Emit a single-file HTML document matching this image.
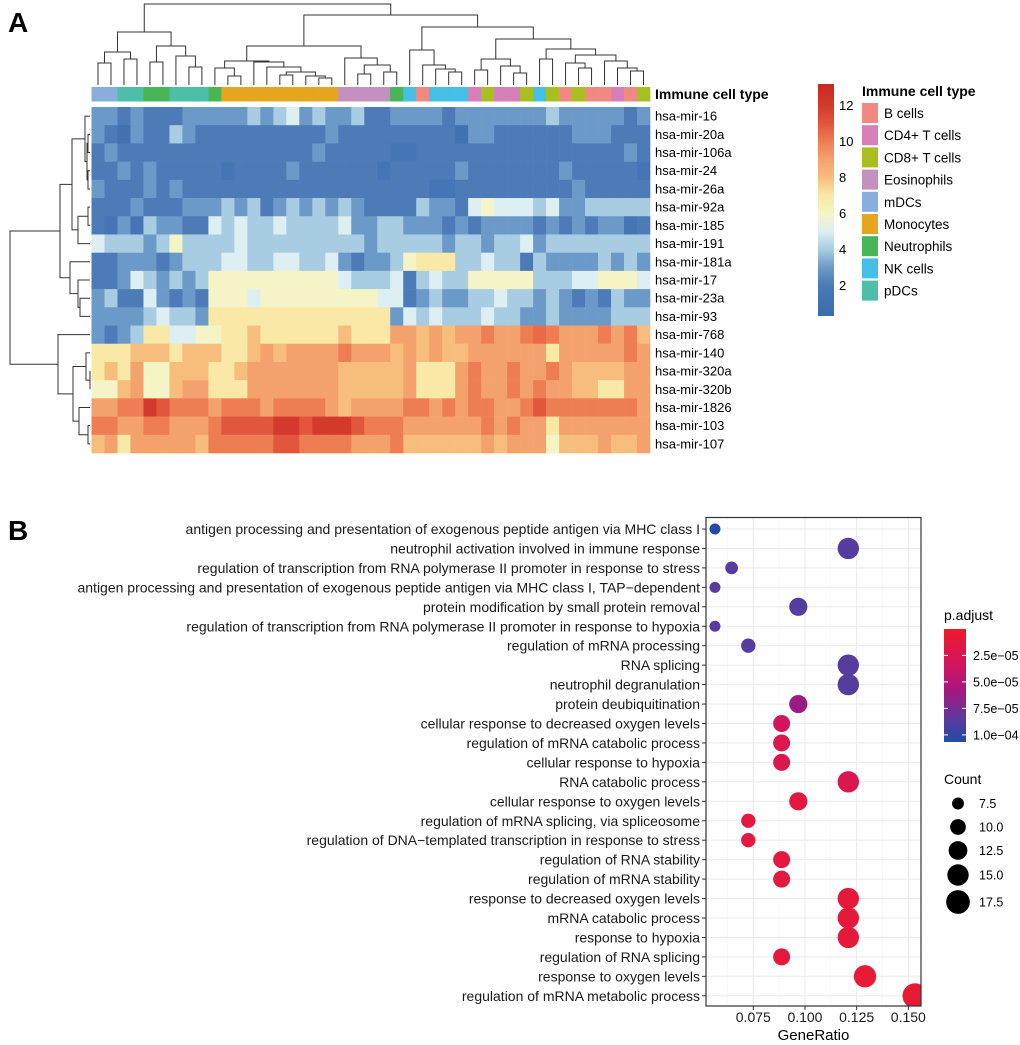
<!DOCTYPE html>
<html><head><meta charset="utf-8"><style>
html,body{margin:0;padding:0;background:#fff;}
svg{display:block;font-family:"Liberation Sans",Arial,sans-serif;}
</style></head><body>
<svg id="fig" width="1020" height="1045" viewBox="0 0 1020 1045" xmlns="http://www.w3.org/2000/svg">
<defs>
<clipPath id="pclip"><rect x="706" y="517.5" width="215" height="488.5"/></clipPath>
<linearGradient id="hmgrad" x1="0" y1="0" x2="0" y2="1"></linearGradient>
<linearGradient id="pgrad" x1="0" y1="0" x2="0" y2="1">
<stop offset="0" stop-color="#EE1B2A"/><stop offset="0.3" stop-color="#D4155E"/><stop offset="0.55" stop-color="#A3187F"/><stop offset="0.8" stop-color="#5A3A9E"/><stop offset="1" stop-color="#1E4FA3"/>
</linearGradient>
</defs>
<text x="8" y="32" font-size="28" font-weight="bold">A</text>
<text x="8" y="540" font-size="28" font-weight="bold">B</text>
<g id="heat"></g>
<g id="dot"></g>
</svg>
<script>
// ---------- Panel A data ----------
const mirnas = ["hsa-mir-16","hsa-mir-20a","hsa-mir-106a","hsa-mir-24","hsa-mir-26a","hsa-mir-92a","hsa-mir-185","hsa-mir-191","hsa-mir-181a","hsa-mir-17","hsa-mir-23a","hsa-mir-93","hsa-mir-768","hsa-mir-140","hsa-mir-320a","hsa-mir-320b","hsa-mir-1826","hsa-mir-103","hsa-mir-107"];
const cellTypes = ["B cells","CD4+ T cells","CD8+ T cells","Eosinophils","mDCs","Monocytes","Neutrophils","NK cells","pDCs"];
const cellColors = ["#F08A80","#D67FB8","#A8BF1F","#C490C0","#88AEDD","#E5A51E","#48B556","#45BFE5","#4DBFA9"];
const colType = [4,4,8,8,6,6,8,8,8,6, 5,5,5,5,5,5,5,5,5, 3,3,3,3, 6,7,0,7,7,7, 1,2,1,1,2,7,2,0,2,0,0,1,0,2];
const expr = [
[3,3,2,3,2,2,2,3,3,3, 3,3,4,3,4,5,3,4,3,3, 4,2,2,3,3,3,3,2,3,3, 3,3,3,3,3,4,3,3,3,3, 3,2,3],
[3,2,1,3,2,2,4,3,2,2, 2,2,2,2,2,2,2,2,3,2, 2,2,2,2,2,2,2,2,1,3, 3,2,2,2,2,2,2,3,3,3, 2,2,2],
[2,3,2,2,2,2,2,2,2,2, 2,2,2,2,2,2,2,3,2,2, 2,2,2,1.5,1.5,2,2,2,2,2, 2,2,2,2,2,2,2,2,2,2, 2,3,2],
[2,2,3,2,3,2,2,2,2,2, 1.5,2,2,2,2,3,2,2,2,2, 2,2,1.5,2,2,2,2,2,3,2, 2,2,2,2,2,2,3,2,2,2, 2,2,1.5],
[3,2,2,2,3,2,3,2,2,2, 2,2,2,2,2,2,2,2,2,2, 2,2,2,2,2,2,1.5,1.5,2,2, 2,2,2,2,2,2,2,3,2,2, 2,2,2],
[2,2,2,3,2,2,2,3,3,3, 4,3,4,2,3,4,3,4,3,4, 3,2,2,2,2,4,3,3,2,5, 6,5,5,5,4,5,3,3,4,4, 4,4,4],
[2,1.5,3,1.5,4,3,3,2,2,5, 4,5,4,4,5,4,4,4,4,5, 3,3,4,4,3,3,3,2,3,2, 3,3,3,3,2,3,2,3,2,3, 3,1.5,2],
[5,4,4,4,3,4,6,4,4,4, 4,5,4,4,4,4,4,4,4,4, 4,3,4,4,4,4,4,3,4,4, 3,4,4,5,3,4,4,4,4,4, 4,4,4],
[2,2,3,3,3,2,3,4,4,4, 5,5,4,4,5,5,4,4,5,3, 2,3,3,4,6,7,7,7,4,4, 5,4,4,2,4,3,3,3,3,4, 3,4,3],
[2,2,3,5,4,3,4,3,4,6, 6,6,6,6,6,6,6,6,6,5, 4,4,4,5,2,4,5,4,4,6, 6,6,6,6,4,4,4,5,5,6, 6,6,5],
[3,4,2,2,5,3,2,3,2,6, 6,6,5,6,6,6,6,6,6,6, 6,6,5,5,2,3,4,3,3,4, 4,5,4,4,3,4,3,2,3,2, 4,3,3],
[3,3,3,3,4,5,4,4,3,7, 7,7,7,7,7,7,7,7,7,7, 7,7,7,3,5,4,5,4,4,4, 5,4,4,3,3,4,3,3,3,3, 4,4,4],
[3,2,3,4,7,7,5,5,6,6, 7,7,8,7,7,7,7,7,7,8, 7,7,7,9,9,8,9,8,9,9, 10,9,9,10,10.5,10,9,9,9,10, 9,10,8],
[7,7,7,8,8,8,7,8,8,8, 7,7,8,9,8,9,9,9,9,10, 9,9,9,8,9,8,9,8,8,9, 9,9,9,9,9,7,9,9,9,9, 9,10,9],
[7,8,7,9,6,6,8,8,8,7, 7,8,9,9,9,9,9,9,9,8, 8,8,8,8,9,7,7,7,9,10, 9,9,10,9,9,10,9,8,8,8, 8,9,9],
[6,6,8,9,6,6,8,9,9,7, 7,7,9,9,9,9,9,9,9,8, 8,8,8,8,9,7,7,7,9,10, 9,9,10,9,10,9,9,8,8,7, 7,9,9],
[9,9,10,10,12,11,10,10,10,9, 10,10,10,9,10,10,10,10,9,8, 9,9,9,9,10,10,9,10,9,10, 10,9,9,10,11,10,10,10,10,10, 10,10,9],
[10,10,9,9,10,10,9,9,9,10, 11,11,11,11,12,12,11,12,12,12, 11,10,10,10,9,9,9,9,9,9, 10,9,10,9,9,7,9,9,9,9, 9,9,9],
[8,9,7,9,9,9,9,9,8,10, 10,10,10,10,11,11,10,10,10,10, 9,9,9,10,8,8,8,8,8,8, 9,8,9,9,9,6,8,8,8,9, 8,8,9]
];
const scaleTicks = [2,4,6,8,10,12];
const colTree = [4,
  [32,[52,[63,0,1],[59,2,3]],[46,[62,4,5],[56,6,[67,7,8]]]],
  [15,
    [46,[61,[68,9,[76,10,11]],[62,12,[67,13,[72,[75,14,15],[76,16,[78,17,18]]]]]],[58,19,[65,[74,20,21],[72,22,23]]]],
    [27,[50,24,[65,25,[69,26,[72,27,28]]]],
        [39,[59,[70,29,30],[66,31,[73,32,33]]],[49,[59,34,35],[55,[63,36,[68,37,38]],[61,39,[68,40,[71,41,42]]]]]]]
  ]];
const rowTree = [10,
  [60,[72,[85,0,[87,[88,1,2],[88,3,4]]],[78,[88,5,6],7]],[70,8,[78,9,[80,10,11]]]],
  [58,12,[73,[86,13,[90,14,15]],[79,16,[88,17,18]]]]];

// ---------- Panel B data ----------
const terms = ["antigen processing and presentation of exogenous peptide antigen via MHC class I","neutrophil activation involved in immune response","regulation of transcription from RNA polymerase II promoter in response to stress","antigen processing and presentation of exogenous peptide antigen via MHC class I, TAP\u2212dependent","protein modification by small protein removal","regulation of transcription from RNA polymerase II promoter in response to hypoxia","regulation of mRNA processing","RNA splicing","neutrophil degranulation","protein deubiquitination","cellular response to decreased oxygen levels","regulation of mRNA catabolic process","cellular response to hypoxia","RNA catabolic process","cellular response to oxygen levels","regulation of mRNA splicing, via spliceosome","regulation of DNA\u2212templated transcription in response to stress","regulation of RNA stability","regulation of mRNA stability","response to decreased oxygen levels","mRNA catabolic process","response to hypoxia","regulation of RNA splicing","response to oxygen levels","regulation of mRNA metabolic process"];
const counts = [7,15,8,7,12,7,9,15,15,12,11,11,11,15,12,9,9,11,11,15,15,15,11,16,19];
const totalGenes = 124;
const padj = [1.06e-4,8.8e-5,8.6e-5,8.6e-5,8.8e-5,8.6e-5,8.6e-5,8.7e-5,8.8e-5,6.2e-5,3.2e-5,2.2e-5,2.2e-5,2.3e-5,1.4e-5,1.3e-5,1.3e-5,1.3e-5,1.3e-5,1.1e-5,1.1e-5,1.1e-5,1.1e-5,7e-6,6e-6];
const xTicks = [0.075,0.100,0.125,0.150];
const pTicks = [2.5e-5,5.0e-5,7.5e-5,1.0e-4];
const pTickLabels = ["2.5e\u221205","5.0e\u221205","7.5e\u221205","1.0e\u221204"];
const sizeTicks = [7.5,10.0,12.5,15.0,17.5];

const NS = "http://www.w3.org/2000/svg";
function mk(tag, attrs, parent){ const e=document.createElementNS(NS,tag); for(const k in attrs) e.setAttribute(k,attrs[k]); parent.appendChild(e); return e; }
function hex(c){return [parseInt(c.slice(1,3),16),parseInt(c.slice(3,5),16),parseInt(c.slice(5,7),16)];}
function interp(stops, t){ if(t<=stops[0][0]) return stops[0][1]; for(let i=0;i<stops.length-1;i++){ const [a,ca]=stops[i],[b,cb]=stops[i+1]; if(t<=b){ const f=(t-a)/(b-a); const x=hex(ca),y=hex(cb); return "rgb("+x.map((v,k)=>Math.round(v+(y[k]-v)*f)).join(",")+")"; } } return stops[stops.length-1][1]; }

// ---------- Heatmap ----------
const H = document.getElementById("heat");
const hmX0=91.5, hmX1=650, hmY0=107, hmY1=453;
const nC = colType.length, nR = mirnas.length;
const cw=(hmX1-hmX0)/nC, rh=(hmY1-hmY0)/nR;
const vMin=0.3, vMax=13.2;
// colour stops in value units
const hmStops=[[0.3,"#3D6CAD"],[1.5,"#4575B4"],[2,"#4C7BB7"],[3,"#6C9AC8"],[4,"#A8CCE2"],[5,"#DEEFF3"],[6,"#F4F4C6"],[7,"#F9E8A6"],[8,"#F7BD7D"],[9,"#F4A26B"],[10,"#EE7E52"],[11,"#E2563D"],[12,"#D43A2B"],[13.2,"#C82A22"]];
const hmColor = v => interp(hmStops, v);
const hg = document.getElementById("hmgrad");
hmStops.forEach(s=>{ mk("stop",{offset:((vMax-s[0])/(vMax-vMin)).toFixed(4),"stop-color":s[1]},hg); });
Array.from(hg.children).reverse().forEach(c=>hg.appendChild(c));
const colX = j => hmX0 + (j+0.5)*cw;
const rowY = i => hmY0 + (i+0.5)*rh;
for(let i=0;i<nR;i++){
  for(let j=0;j<nC;j++){
    const r = mk("rect",{x:hmX0+j*cw,y:hmY0+i*rh,width:cw+0.3,height:rh+0.3,fill:hmColor(expr[i][j])},H);
    
    
  }
  const t = mk("text",{x:655,y:rowY(i)+4.5,"font-size":13},H);
  t.textContent = mirnas[i];
  
  
}
for(let j=0;j<nC;j++){
  const r = mk("rect",{x:hmX0+j*cw,y:87,width:cw+0.3,height:14.5,fill:cellColors[colType[j]]},H);
  
  
}
const at = mk("text",{x:655,y:99,"font-size":14,"font-weight":"bold"},H);
at.textContent="Immune cell type";



const dg = mk("g",{stroke:"#333","stroke-width":1,fill:"none"},H);


function drawCol(n){
  if(typeof n==="number") return {x:colX(n),y:85};
  const a=drawCol(n[1]), b=drawCol(n[2]), h=n[0];
  mk("path",{d:`M${a.x},${a.y}V${h}H${b.x}V${b.y}`},dg);
  return {x:(a.x+b.x)/2,y:h};
}
function drawRow(n){
  if(typeof n==="number") return {x:90,y:rowY(n)};
  const a=drawRow(n[1]), b=drawRow(n[2]), h=n[0];
  mk("path",{d:`M${a.x},${a.y}H${h}V${b.y}H${b.x}`},dg);
  return {x:h,y:(a.y+b.y)/2};
}
drawCol(colTree); drawRow(rowTree);

const cbY0=84, cbY1=316;
const cb = mk("rect",{x:818,y:cbY0,width:16,height:cbY1-cbY0,fill:"url(#hmgrad)"},H);


scaleTicks.forEach(v=>{
  const y = cbY0 + (vMax-v)/(vMax-vMin)*(cbY1-cbY0);
  const t=mk("text",{x:839,y:y+4.5,"font-size":13},H);
  t.textContent=v;
  
  
});
const lt = mk("text",{x:862,y:96,"font-size":14,"font-weight":"bold"},H);
lt.textContent="Immune cell type";


cellTypes.forEach((c,k)=>{
  const y=103+k*22.2;
  const r=mk("rect",{x:862,y:y,width:16,height:20,fill:cellColors[k]},H);
  
  
  const t=mk("text",{x:884,y:y+15,"font-size":13.5},H);
  t.textContent=c;
  
  
});

// ---------- Dot plot ----------
const D = document.getElementById("dot");
const pX0=706, pX1=921, pY0=517.5, pY1=1006;
const xs = v => 753.3 + (v-0.075)*2067;
const yTop=529, yStep=19.45;
const ys = i => yTop + i*yStep;
const pMin=1e-7, pMax=1.067e-4;
const pStops=[[0,"#EE1B2A"],[0.3,"#D4155E"],[0.55,"#A3187F"],[0.8,"#5A3A9E"],[1,"#1E4FA3"]];
const pcol = p => interp(pStops,(p-pMin)/(pMax-pMin));
const rMin=5.5, rMax=12.5, cMin=7, cMax=19;
const rs = c => Math.sqrt(rMin*rMin + (c-cMin)/(cMax-cMin)*(rMax*rMax-rMin*rMin));
mk("rect",{x:pX0,y:pY0,width:pX1-pX0,height:pY1-pY0,fill:"#fff"},D);
const grid = mk("g",{},D);


for(let k=0;k<xTicks.length;k++){
  mk("line",{x1:xs(xTicks[k]),x2:xs(xTicks[k]),y1:pY0,y2:pY1,stroke:"#EBEBEB","stroke-width":1.1},grid);
}
for(let k=-1;k<xTicks.length;k++){
  const v = (k<0? xTicks[0]-0.0125 : xTicks[k]+0.0125);
  const x=xs(v); if(x>pX0 && x<pX1) mk("line",{x1:x,x2:x,y1:pY0,y2:pY1,stroke:"#F3F3F3","stroke-width":0.6},grid);
}
terms.forEach((t,i)=>{ mk("line",{x1:pX0,x2:pX1,y1:ys(i),y2:ys(i),stroke:"#EBEBEB","stroke-width":1.1},grid); });
const dots = mk("g",{"clip-path":"url(#pclip)"},D);
terms.forEach((t,i)=>{
  const c = mk("circle",{cx:xs(counts[i]/totalGenes),cy:ys(i),r:rs(counts[i]),fill:pcol(padj[i])},dots);
  
  
  mk("line",{x1:pX0-4,x2:pX0,y1:ys(i),y2:ys(i),stroke:"#333"},D);
  const tx = mk("text",{x:pX0-6,y:ys(i)+5,"font-size":14,"text-anchor":"end",fill:"#1a1a1a"},D);
  tx.textContent = t;
  
  
});
const border = mk("rect",{x:pX0,y:pY0,width:pX1-pX0,height:pY1-pY0,fill:"none",stroke:"#333","stroke-width":1.2},D);


xTicks.forEach(v=>{
  mk("line",{x1:xs(v),x2:xs(v),y1:pY1,y2:pY1+4,stroke:"#333"},D);
  const t=mk("text",{x:xs(v),y:1022,"font-size":14,"text-anchor":"middle",fill:"#1a1a1a"},D);
  t.textContent=v.toFixed(3);
  
  
});
const xt=mk("text",{x:(pX0+pX1)/2,y:1040,"font-size":15,"text-anchor":"middle"},D);
xt.textContent="GeneRatio";



const pt=mk("text",{x:944,y:620,"font-size":14},D);
pt.textContent="p.adjust";


const pbY0=629, pbY1=742;
const pb=mk("rect",{x:944,y:pbY0,width:22,height:pbY1-pbY0,fill:"url(#pgrad)"},D);


pTicks.forEach((v,k)=>{
  const y = pbY0 + (v-pMin)/(pMax-pMin)*(pbY1-pbY0);
  mk("line",{x1:944,x2:948,y1:y,y2:y,stroke:"#fff"},D);
  mk("line",{x1:962,x2:966,y1:y,y2:y,stroke:"#fff"},D);
  const t=mk("text",{x:973,y:y+4.5,"font-size":12.5},D);
  t.textContent=pTickLabels[k];
  
  
});
const ct=mk("text",{x:944,y:784,"font-size":14},D);
ct.textContent="Count";


const sizeY=[803.5,827,850.5,875,902];
sizeTicks.forEach((v,k)=>{
  const c=mk("circle",{cx:958,cy:sizeY[k],r:rs(v),fill:"#000"},D);
  
  
  const t=mk("text",{x:979,y:sizeY[k]+4.5,"font-size":12.5},D);
  t.textContent=v.toFixed(1);
  
  
});
</script>
</body></html>
